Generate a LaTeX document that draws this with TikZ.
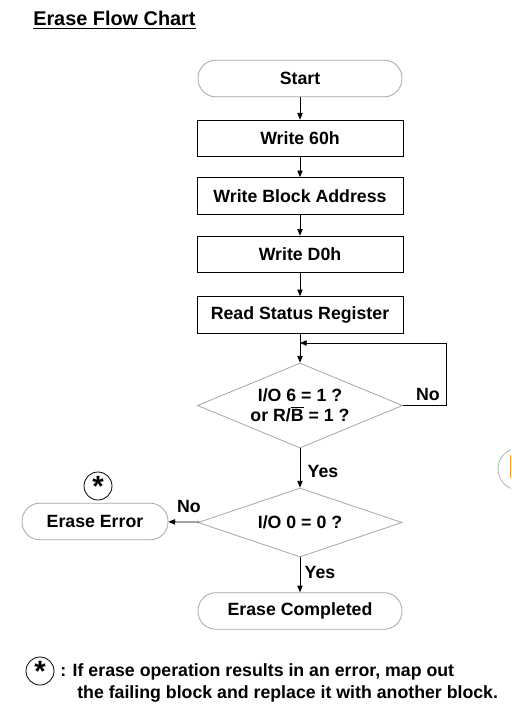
\documentclass[tikz,border=0pt]{standalone}
\usepackage{fontspec}
\setmainfont{Liberation Sans}
\usetikzlibrary{shapes.geometric,arrows.meta}
\tikzset{
  arr/.style={-{Triangle[length=5pt,width=4pt]},line width=.6pt},
  box/.style={draw,line width=.75pt,minimum width=154.5pt,minimum height=27.5pt,inner sep=0pt},
  term/.style={draw=black!35,line width=.6pt,rounded corners=13.5pt,minimum width=153pt,minimum height=27.5pt,inner sep=0pt},
  test/.style={draw=black!35,line width=.6pt,diamond,inner sep=0pt,align=center},
  starmark/.style={draw,circle,line width=.6pt,minimum size=21pt,inner sep=0pt,font=\fontsize{22}{22}\selectfont\bfseries},
  lbl/.style={inner sep=0pt}
}
\begin{document}
\begin{tikzpicture}[x=.75pt,y=-.75pt,font=\fontsize{13.3}{16}\selectfont\bfseries]
  \useasboundingbox (0,0) rectangle (511,713);
  \node[lbl,anchor=west,font=\fontsize{14.9}{18}\selectfont\bfseries] (title) at (33,20) {\underline{Erase Flow Chart}};
  % main column
  \node[term] (start) at (300,78.5) {Start};
  \node[box] (w60) at (300,138.5) {Write 60h};
  \node[box] (wadr) at (300,196) {Write Block Address};
  \node[box] (wd0) at (300,254.5) {Write D0h};
  \node[box] (rsr) at (300,315) {Read Status Register};
  \node[test,shape aspect=2.41,minimum width=153.75pt,minimum height=63.75pt] (chk6) at (300,405.5)
    {I/O 6 = 1 ?\\[-1pt] or R/\smash{$\overline{\mbox{B}}$} = 1 ?};
  \node[test,shape aspect=2.96,minimum width=153pt,minimum height=51.75pt] (chk0) at (300,522.5) {I/O 0 = 0 ?};
  \node[term] (done) at (300,611) {Erase Completed};
  \node[term,minimum width=109.5pt] (err) at (95,521.5) {Erase Error};
  \node[starmark] (errmark) at (98,486) {\raisebox{-5pt}{*}};
  \coordinate (loop) at (300,343);
  % connectors
  \draw[arr] (start) -- (w60);
  \draw[arr] (w60) -- (wadr);
  \draw[arr] (wadr) -- (wd0);
  \draw[arr] (wd0) -- (rsr);
  \draw[arr] (rsr) -- (chk6);
  \draw[arr] (chk6.east) -- ++(43,0) |- (loop);
  \draw[arr] (chk6) -- (chk0);
  \draw[arr] (chk0) -- (err);
  \draw[arr] (chk0) -- (done);
  \node[lbl] (no6) at (428,394) {No};
  \node[lbl] (yes6) at (323,471) {Yes};
  \node[lbl] (no0) at (189,506) {No};
  \node[lbl] (yes0) at (320,572) {Yes};
  % note
  \node[starmark] (notemark) at (40,671) {\raisebox{-5pt}{*}};
  \node[lbl,anchor=west] (note1) at (60,672) {: If erase operation results in an error, map out};
  \node[lbl,anchor=west] (note2) at (77,694) {the failing block and replace it with another block.};
  % cut-off shape at the right edge
  \begin{scope}
    \clip (0,0) rectangle (511,713);
    \draw[black!30,line width=.6pt] (530,448) -- (519,448) arc[start angle=270,end angle=90,radius=21] -- (530,490);
    \draw[orange!80,line width=.75pt] (510,455) -- (510,478);
  \end{scope}
\end{tikzpicture}
\end{document}
